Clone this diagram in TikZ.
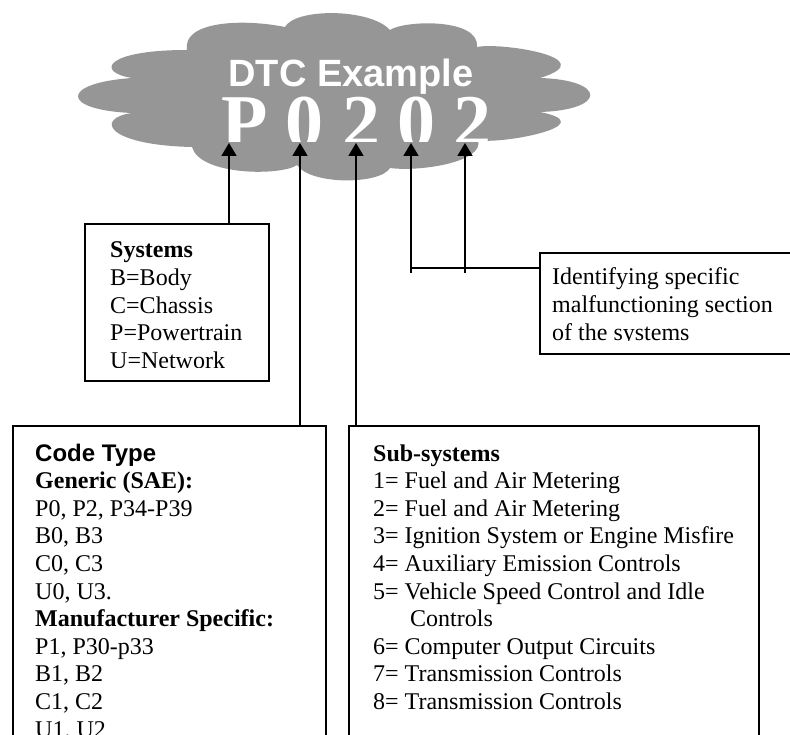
\documentclass[tikz,border=0pt]{standalone}
\usepackage{fontspec}
\setmainfont{Liberation Serif}
\newfontfamily\arialf{Liberation Sans}
\usetikzlibrary{arrows.meta}
\definecolor{cloudgray}{RGB}{150,150,150}
\begin{document}
\begin{tikzpicture}[x=1pt,y=-1pt,
  box/.style={draw=black, line width=1.6pt, rectangle, inner sep=0pt, anchor=north west},
  txt/.style={anchor=base west, inner sep=0pt, font=\fontsize{24}{27.6}\selectfont},
  digit/.style={anchor=base, inner sep=0pt, text=white, font=\fontsize{76}{80}\selectfont\bfseries},
  arr/.style={line width=1.8pt, -{Triangle[width=15pt,length=13pt]}},
  conn/.style={line width=1.8pt}]
\useasboundingbox (0,0) rectangle (790,735);
\clip (0,0) rectangle (790,735);
% cloud
\fill[cloudgray] (132,78) .. controls (95,72) and (105,50) .. (187,50)
  .. controls (182,22) and (240,18) .. (285,27)
  .. controls (295,8) and (370,8) .. (390,30)
  .. controls (405,20) and (480,18) .. (477,47)
  .. controls (500,42) and (605,58) .. (540,78)
  .. controls (607,80) and (607,110) .. (540,112)
  .. controls (605,125) and (500,145) .. (478,140)
  .. controls (485,162) and (420,172) .. (390,168)
  .. controls (380,185) and (310,185) .. (297,165)
  .. controls (282,176) and (200,176) .. (192,147)
  .. controls (105,145) and (95,118) .. (132,113)
  .. controls (60,110) and (60,83) .. (132,78) -- cycle;
\node[anchor=base, inner sep=0pt, text=white, font=\arialf\bfseries\fontsize{38}{40}\selectfont] (title) at (351,87) {DTC Example};
\begin{scope}
  \clip (200,90) rectangle (520,142);
  \node[digit] (d1) at (245,148) {P};
  \node[digit] (d2) at (304,148) {0};
  \node[digit] (d3) at (361,148) {2};
  \node[digit] (d4) at (416,148) {0};
  \node[digit] (d5) at (472,148) {2};
\end{scope}
% arrow tips
\coordinate (t1) at (229,143);
\coordinate (t2) at (300,143);
\coordinate (t3) at (356,143);
\coordinate (t4) at (411,143);
\coordinate (t5) at (465,143);
\coordinate (j4) at (411,273);
\coordinate (j5) at (465,273);
\coordinate (jh) at (411,268);
% boxes
\node[box, minimum width=184pt, minimum height=157pt] (sys) at (84,223) {};
\node[box, minimum width=261pt, minimum height=101pt] (ident) at (539,252) {};
\node[box, minimum width=313pt, minimum height=335pt] (code) at (12,425) {};
\node[box, minimum width=410pt, minimum height=335pt] (sub) at (348,425) {};
% box texts
\begin{scope}
  \clip (84,223) rectangle (268,367.5);
  \node[txt] (systxt) at (110,258) {\vtop{\hbox{\bfseries Systems}\hbox{B=Body}\hbox{C=Chassis}\hbox{P=Powertrain}\hbox{U=Network}}};
\end{scope}
\begin{scope}
  \clip (539,252) rectangle (800,341);
  \node[txt] (identtxt) at (552,285) {\vtop{\hbox{Identifying specific}\hbox{malfunctioning section}\hbox{of the systems}}};
\end{scope}
\node[txt] (codetxt) at (35,461) {\vtop{\hbox{\arialf\bfseries Code Type}\hbox{\bfseries Generic (SAE):}\hbox{P0, P2, P34-P39}\hbox{B0, B3}\hbox{C0, C3}\hbox{U0, U3.}\hbox{\bfseries Manufacturer Specific:}\hbox{P1, P30-p33}\hbox{B1, B2}\hbox{C1, C2}\hbox{U1, U2}}};
\node[txt] (subtxt) at (373,461) {\vtop{\hbox{\bfseries Sub-systems}\hbox{1= Fuel and Air Metering}\hbox{2= Fuel and Air Metering}\hbox{3= Ignition System or Engine Misfire}\hbox{4= Auxiliary Emission Controls}\hbox{5= Vehicle Speed Control and Idle}\hbox{\hspace{37pt}Controls}\hbox{6= Computer Output Circuits}\hbox{7= Transmission Controls}\hbox{8= Transmission Controls}}};
% connectors
\draw[arr] (sys.north -| t1) -- (t1);
\draw[arr] (code.north -| t2) -- (t2);
\draw[arr] (sub.north -| t3) -- (t3);
\draw[arr] (j4) -- (t4);
\draw[arr] (j5) -- (t5);
\draw[conn] (jh) -- (ident.west |- jh);
\end{tikzpicture}
\end{document}
